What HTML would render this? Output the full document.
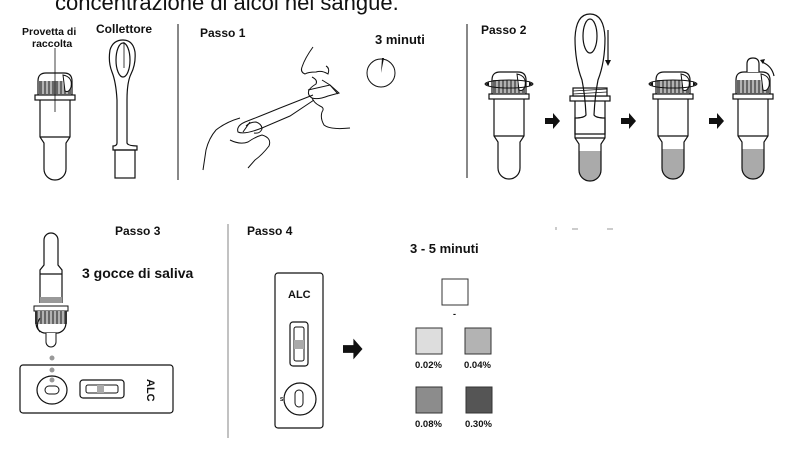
<!DOCTYPE html>
<html><head><meta charset="utf-8"><style>
html,body{margin:0;padding:0;background:#fff;}
svg{display:block;}
text{font-family:"Liberation Sans",sans-serif;font-weight:bold;fill:#111;}
</style></head><body>
<svg width="796" height="474" viewBox="0 0 796 474" xmlns="http://www.w3.org/2000/svg">
<defs>
<g id="ridges">
  <rect x="-16" y="8" width="32" height="13" fill="#666"/>
  <g stroke="#fff" stroke-width="1">
    <line x1="-12" y1="8" x2="-12" y2="21"/><line x1="-8" y1="8" x2="-8" y2="21"/><line x1="-4" y1="8" x2="-4" y2="21"/><line x1="0" y1="8" x2="0" y2="21"/><line x1="4" y1="8" x2="4" y2="21"/><line x1="8" y1="8" x2="8" y2="21"/><line x1="12" y1="8" x2="12" y2="21"/>
  </g>
</g>
<g id="tubebody" fill="none" stroke="#111" stroke-width="1.2">
  <rect x="-20" y="22" width="40" height="5" fill="#fff"/>
  <path d="M-15 27 V64 L-11 70 V96 A11 11 0 0 0 11 96 V70 L15 64 V27"/>
  <line x1="-15" y1="64" x2="15" y2="64"/>
</g>
<g id="tube">
  <path d="M-17 22 V8 Q-17 0 -9 0 H9 Q17 0 17 8 V22 Z" fill="#fff" stroke="#111" stroke-width="1.2"/>
  <use href="#ridges"/>
  <path d="M8 2 Q18 4 16 14 Q14 20 10 18 Z" fill="#fff" stroke="#111"/>
  <use href="#tubebody"/>
</g>
<g id="gray"><path d="M-11 77 V96 A11 11 0 0 0 11 96 V77 Z" fill="#aaa"/></g>
<path id="arrow" d="M0 -3 H8 V-8 L15 0 L8 8 V3 H0 Z" fill="#111"/>
</defs>

<text x="55" y="10" font-size="22" style="font-weight:normal">concentrazione di alcol nel sangue.</text>

<text x="22" y="35" font-size="10.5">Provetta di</text>
<text x="32" y="47" font-size="10.5">raccolta</text>
<text x="96" y="33" font-size="12">Collettore</text>
<g transform="translate(55,73)"><use href="#tube"/></g>
<line x1="55" y1="48" x2="55" y2="112" stroke="#111" stroke-width="0.8"/>
<g fill="none" stroke="#111" stroke-width="1.2">
  <path d="M117 100 Q116 82 112 72 Q108 62 110 50 Q113 40 123 40 Q133 40 135 52 Q136 64 131 74 Q127 82 127 100 V143 Q128 146 137 146 V150 H113 V146 Q117 146 117 143 Z"/>
  <ellipse cx="123" cy="60" rx="7" ry="17"/>
  <rect x="115" y="150" width="20" height="28"/>
  <line x1="124" y1="42" x2="124" y2="68" stroke-width="0.8"/>
</g>
<line x1="178" y1="24" x2="178" y2="180" stroke="#111" stroke-width="1"/>

<text x="200" y="37" font-size="12">Passo 1</text>
<text x="375" y="44" font-size="13">3 minuti</text>
<circle cx="381" cy="73" r="14" fill="none" stroke="#111" stroke-width="1"/>
<path d="M381 73 L382 58 L384 58 Z" fill="#111"/>
<g fill="none" stroke="#111" stroke-width="1">
  <path d="M313 47 Q305 58 302 67 Q300 72 305 74 Q308 72 316 72 Q322 70 328 74 Q330 68 326 66"/>
  <path d="M312 77 Q318 80 316 84 Q311 87 309 90 Q307 95 312 98 Q318 100 328 96 L339 93 L330 85 L322 80"/>
  <path d="M312 98 Q314 103 320 106 Q325 108 322 112 Q320 118 324 125 Q330 130 350 128"/>
  <path d="M308 90 L330 85 L338 94"/>
  <path d="M313 95 L280 108 Q258 117 245 122 Q236 126 238 132 Q244 135 262 128 L290 116 L314 100"/>
  <path d="M240 118 Q226 122 216 130 Q209 138 206 150 L203 170"/>
  <path d="M230 140 Q240 145 248 142 Q255 137 262 135 Q272 138 269 146 Q262 155 255 160 L248 168"/>
  <path d="M246 126 Q250 122 256 122 Q262 124 262 129 Q260 134 254 133"/>
  <path d="M243 132 L250 122"/>
</g>

<line x1="467" y1="24" x2="467" y2="178" stroke="#111" stroke-width="1"/>
<text x="481" y="34" font-size="12">Passo 2</text>
<g transform="translate(509,72)"><use href="#tube"/></g>
<g fill="none" stroke="#111" stroke-width="1"><ellipse cx="509" cy="84" rx="24" ry="4"/></g>
<path d="M529 82 L533 84 L529 86" fill="#111"/>
<path d="M489 86 L485 84 L489 82" fill="#111"/>
<g transform="translate(545,121)"><use href="#arrow"/></g>

<g transform="translate(590,74)">
  <use href="#gray"/>
  <use href="#tubebody"/>
  <rect x="-17" y="14" width="34" height="8" fill="#fff" stroke="#111" stroke-width="1.2"/>
  <path d="M-17 17 L17 15 M-17 20 L17 18" stroke="#111" stroke-width="0.8"/>
</g>
<g fill="none" stroke="#111" stroke-width="1.2">
  <path d="M586 115 Q585 95 582 80 Q575 62 575 38 Q576 14 590 14 Q604 14 605 38 Q605 62 598 80 Q595 95 594 115 Q596 118 605 118 V134 H575 V118 Q584 118 586 115 Z"/>
  <ellipse cx="590" cy="36" rx="7" ry="17"/>
</g>
<line x1="608" y1="30" x2="608" y2="62" stroke="#111" stroke-width="1.2"/>
<path d="M605 60 L608 66 L611 60 Z" fill="#111"/>
<g transform="translate(621,121)"><use href="#arrow"/></g>

<g transform="translate(673,72)"><use href="#gray"/><use href="#tube"/></g>
<g fill="none" stroke="#111" stroke-width="1"><ellipse cx="673" cy="84" rx="24" ry="4"/></g>
<path d="M693 82 L697 84 L693 86" fill="#111"/>
<path d="M653 86 L649 84 L653 82" fill="#111"/>
<g transform="translate(709,121)"><use href="#arrow"/></g>

<g transform="translate(753,72)"><use href="#gray"/><use href="#tube"/>
  <path d="M-6 0 V-8 Q-6 -14 0 -14 Q6 -14 6 -8 V0" fill="#fff" stroke="#111" stroke-width="1.2"/>
</g>
<path d="M762 62 Q772 66 774 76" fill="none" stroke="#111" stroke-width="1.2"/>
<path d="M760 60 L765 59 L763 64 Z" fill="#111"/>

<text x="115" y="235" font-size="12">Passo 3</text>
<text x="82" y="278" font-size="14">3 gocce di saliva</text>
<g fill="none" stroke="#111" stroke-width="1.2">
  <path d="M40 303 V270 L44 265 V240 A7 7 0 0 1 58 240 V265 L62 270 V303"/>
  <line x1="40" y1="274" x2="62" y2="274"/>
</g>
<rect x="40" y="297" width="22" height="6" fill="#999"/>
<rect x="34" y="306" width="34" height="5" fill="#fff" stroke="#111"/>
<g transform="translate(51,330) scale(1,-1)"><use href="#ridges" transform="translate(0,-2)"/></g>
<path d="M36 311 V322 Q36 331 44 333 H58 Q66 331 66 322 V311" fill="none" stroke="#111" stroke-width="1.2"/>
<path d="M40 318 Q35 326 40 332" fill="none" stroke="#111"/>
<path d="M46 333 V342 A5 5 0 0 0 56 342 V333" fill="#fff" stroke="#111"/>
<circle cx="52" cy="358" r="2.5" fill="#999"/><circle cx="52" cy="370" r="2.5" fill="#999"/><circle cx="52" cy="380" r="2.5" fill="#999"/>
<rect x="20" y="365" width="153" height="48" rx="3" fill="none" stroke="#111" stroke-width="1.2"/>
<ellipse cx="52" cy="390" rx="15" ry="14" fill="none" stroke="#111" stroke-width="1.2"/>
<rect x="45" y="386" width="14" height="8" rx="4" fill="none" stroke="#111"/>
<rect x="80" y="380" width="44" height="18" rx="3" fill="none" stroke="#111" stroke-width="1.2"/>
<rect x="86" y="385" width="32" height="8" rx="2" fill="none" stroke="#111"/>
<rect x="97" y="385" width="7" height="8" fill="#aaa"/>
<text transform="translate(147,379) rotate(90)" font-size="11">ALC</text>

<line x1="228" y1="224" x2="228" y2="438" stroke="#999" stroke-width="1.2"/>
<text x="247" y="235" font-size="12">Passo 4</text>
<text x="410" y="253" font-size="13">3 - 5 minuti</text>
<rect x="275" y="273" width="48" height="155" rx="3" fill="none" stroke="#111" stroke-width="1.2"/>
<text x="288" y="298" font-size="11">ALC</text>
<rect x="290" y="322" width="18" height="44" rx="3" fill="none" stroke="#111" stroke-width="1.2"/>
<rect x="294" y="327" width="10" height="34" rx="2" fill="none" stroke="#111"/>
<rect x="294" y="340" width="10" height="9" fill="#aaa"/>
<circle cx="300" cy="399" r="16" fill="none" stroke="#111" stroke-width="1.2"/>
<rect x="295" y="390" width="8" height="17" rx="4" fill="none" stroke="#111"/>
<text x="280" y="401" font-size="5">S</text>
<g transform="translate(343,349) scale(1.3)"><use href="#arrow"/></g>
<rect x="442" y="279" width="26" height="26" fill="#fff" stroke="#333"/>
<text x="453" y="317" font-size="9">-</text>
<rect x="416" y="328" width="26" height="26" fill="#ddd" stroke="#333"/>
<rect x="465" y="328" width="26" height="26" fill="#b3b3b3" stroke="#333"/>
<rect x="416" y="387" width="26" height="26" fill="#8c8c8c" stroke="#333"/>
<rect x="466" y="387" width="26" height="26" fill="#555" stroke="#333"/>
<text x="415" y="368" font-size="9.5">0.02%</text>
<text x="464" y="368" font-size="9.5">0.04%</text>
<text x="415" y="427" font-size="9.5">0.08%</text>
<text x="465" y="427" font-size="9.5">0.30%</text>
<g stroke="#999" stroke-width="1"><line x1="556" y1="227" x2="556" y2="230"/><line x1="572" y1="229" x2="578" y2="229"/><line x1="607" y1="229" x2="613" y2="229"/></g>
</svg>
</body></html>
